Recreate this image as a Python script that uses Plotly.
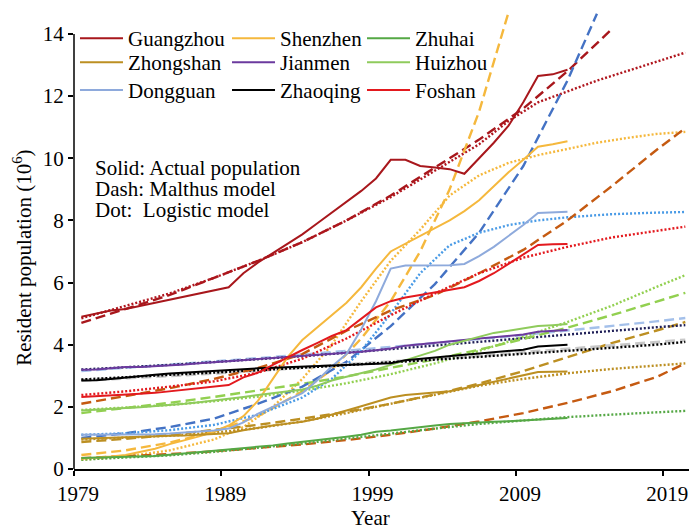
import plotly.graph_objects as go

# ---------------- data (population, millions) ----------------
years_actual = list(range(1979, 2013))

guangzhou_actual = [4.9, 5.0, 5.1, 5.15, 5.25, 5.35, 5.45, 5.55, 5.65, 5.75, 5.85, 6.3, 6.65, 6.95,
                    7.25, 7.55, 7.9, 8.25, 8.6, 8.95, 9.35, 9.95, 9.95, 9.75, 9.7, 9.65, 9.5, 10.0,
                    10.5, 11.05, 11.8, 12.65, 12.7, 12.85]
shenzhen_actual = [0.33, 0.36, 0.4, 0.45, 0.55, 0.65, 0.8, 0.92, 1.05, 1.2, 1.4, 1.7, 2.2, 2.9,
                   3.6, 4.15, 4.55, 4.95, 5.35, 5.85, 6.45, 7.0, 7.25, 7.5, 7.75, 8.0, 8.3, 8.65,
                   9.1, 9.55, 9.95, 10.37, 10.45, 10.55]
zhuhai_actual = [0.35, 0.36, 0.37, 0.38, 0.39, 0.42, 0.46, 0.5, 0.54, 0.58, 0.62, 0.66, 0.7, 0.76,
                 0.82, 0.87, 0.92, 0.98, 1.04, 1.1, 1.2, 1.24, 1.3, 1.35, 1.4, 1.45, 1.48, 1.5,
                 1.52, 1.54, 1.56, 1.58, 1.61, 1.64]
zhongshan_actual = [0.97, 0.99, 1.01, 1.02, 1.04, 1.05, 1.07, 1.08, 1.1, 1.12, 1.15, 1.25, 1.33, 1.4,
                    1.46, 1.52, 1.62, 1.74, 1.88, 2.02, 2.16, 2.3, 2.38, 2.42, 2.44, 2.5, 2.6, 2.7,
                    2.8, 2.9, 3.0, 3.12, 3.13, 3.14]
jianmen_actual = [3.19, 3.2, 3.24, 3.28, 3.28, 3.3, 3.33, 3.36, 3.4, 3.44, 3.47, 3.5, 3.54, 3.57,
                  3.6, 3.63, 3.66, 3.7, 3.73, 3.77, 3.82, 3.88, 3.97, 4.02, 4.07, 4.11, 4.15, 4.2,
                  4.24, 4.28, 4.33, 4.42, 4.45, 4.47]
huizhou_actual = [1.88, 1.9, 1.93, 1.96, 1.99, 2.02, 2.06, 2.1, 2.15, 2.2, 2.26, 2.32, 2.38, 2.44,
                  2.5, 2.56, 2.68, 2.85, 2.97, 3.08, 3.2, 3.35, 3.5, 3.65, 3.8, 4.0, 4.12, 4.26,
                  4.38, 4.45, 4.52, 4.6, 4.63, 4.67]
dongguan_actual = [1.1, 1.1, 1.1, 1.1, 1.11, 1.12, 1.14, 1.17, 1.2, 1.24, 1.3, 1.5, 1.78, 2.0,
                   2.22, 2.44, 2.85, 3.3, 3.7, 4.5, 5.4, 6.45, 6.55, 6.56, 6.56, 6.56, 6.6, 6.85,
                   7.15, 7.5, 7.85, 8.24, 8.27, 8.28]
zhaoqing_actual = [2.85, 2.86, 2.9, 2.95, 3.0, 3.03, 3.07, 3.1, 3.14, 3.17, 3.19, 3.22, 3.24, 3.26,
                   3.28, 3.3, 3.32, 3.34, 3.36, 3.38, 3.4, 3.4, 3.5, 3.55, 3.6, 3.64, 3.68, 3.72,
                   3.76, 3.8, 3.84, 3.94, 3.97, 4.0]
foshan_actual = [2.32, 2.34, 2.36, 2.39, 2.42, 2.45, 2.5, 2.55, 2.6, 2.65, 2.7, 2.95, 3.1, 3.35,
                 3.6, 3.83, 4.05, 4.28, 4.47, 4.85, 5.2, 5.4, 5.52, 5.6, 5.68, 5.75, 5.85, 6.05,
                 6.3, 6.6, 6.9, 7.21, 7.23, 7.24]

# model curves (sampled years)
model_years = [1979, 1982, 1985, 1988, 1991, 1994, 1997, 2000, 2003, 2006, 2009, 2012, 2015, 2018, 2020]

guangzhou_malthus_years = [1979, 1982, 1985, 1988, 1991, 1994, 1997, 2000, 2003, 2006, 2009, 2012, 2015]
guangzhou_malthus = [4.7, 5.15, 5.6, 6.15, 6.7, 7.3, 8.0, 8.8, 9.7, 10.6, 11.6, 12.8, 14.15]
guangzhou_logistic_years = [1979, 1982, 1985, 1988, 1991, 1994, 1997, 2000, 2003, 2006, 2008, 2010,
                            2012, 2014, 2016, 2018, 2020]
guangzhou_logistic = [4.85, 5.25, 5.65, 6.15, 6.7, 7.3, 8.0, 8.75, 9.6, 10.45, 11.2, 11.8, 12.15,
                      12.5, 12.8, 13.1, 13.4]

shenzhen_malthus_years = [1979, 1982, 1985, 1988, 1991, 1994, 1996, 1998, 2000, 2002, 2004, 2006, 2008]
shenzhen_malthus = [0.45, 0.6, 0.85, 1.2, 1.7, 2.5, 3.2, 4.2, 5.4, 7.0, 9.0, 11.5, 14.7]
shenzhen_logistic_years = [1979, 1982, 1985, 1988, 1990, 1992, 1994, 1996, 1998, 2000, 2002, 2004,
                           2006, 2008, 2010, 2012, 2014, 2016, 2018, 2020]
shenzhen_logistic = [0.3, 0.4, 0.6, 0.95, 1.35, 2.0, 2.9, 4.0, 5.4, 6.7, 7.7, 8.8, 9.45, 9.85,
                     10.1, 10.3, 10.5, 10.65, 10.78, 10.85]

zhuhai_malthus = [0.35, 0.41, 0.48, 0.57, 0.67, 0.79, 0.93, 1.1, 1.3, 1.53, 1.8, 2.13, 2.5, 2.95, 3.4]
zhuhai_logistic = [0.3, 0.36, 0.44, 0.55, 0.68, 0.82, 0.98, 1.15, 1.3, 1.45, 1.57, 1.67, 1.75, 1.82, 1.87]

zhongshan_malthus = [0.87, 0.97, 1.1, 1.25, 1.42, 1.62, 1.84, 2.1, 2.4, 2.75, 3.15, 3.6, 4.05, 4.45, 4.73]
zhongshan_logistic = [0.95, 1.0, 1.07, 1.17, 1.32, 1.53, 1.8, 2.1, 2.4, 2.68, 2.9, 3.08, 3.22, 3.33, 3.4]

jianmen_malthus = [3.15, 3.25, 3.35, 3.46, 3.57, 3.68, 3.8, 3.92, 4.05, 4.18, 4.31, 4.45, 4.6, 4.75, 4.86]
jianmen_logistic = [3.2, 3.27, 3.35, 3.44, 3.53, 3.63, 3.74, 3.86, 3.98, 4.1, 4.22, 4.34, 4.45, 4.56, 4.63]

huizhou_malthus = [1.8, 1.96, 2.13, 2.32, 2.52, 2.74, 2.98, 3.25, 3.53, 3.84, 4.18, 4.55, 4.95, 5.38, 5.67]
huizhou_logistic = [1.9, 1.97, 2.06, 2.18, 2.33, 2.52, 2.76, 3.05, 3.4, 3.8, 4.25, 4.73, 5.25, 5.85, 6.24]

dongguan_malthus_years = [1979, 1982, 1985, 1988, 1991, 1994, 1997, 2000, 2003, 2006, 2009, 2012, 2014]
dongguan_malthus = [1.0, 1.15, 1.35, 1.62, 2.1, 2.65, 3.45, 4.6, 5.95, 7.6, 9.75, 12.5, 14.65]
dongguan_logistic_years = [1979, 1982, 1985, 1988, 1991, 1994, 1996, 1998, 2000, 2002, 2004, 2006,
                           2008, 2010, 2012, 2015, 2018, 2020]
dongguan_logistic = [1.1, 1.15, 1.25, 1.42, 1.75, 2.3, 2.9, 3.8, 5.0, 6.3, 7.2, 7.6, 7.85, 8.0,
                     8.1, 8.2, 8.25, 8.27]

zhaoqing_malthus = [2.85, 2.92, 3.0, 3.08, 3.17, 3.26, 3.35, 3.44, 3.54, 3.64, 3.75, 3.86, 3.97, 4.08, 4.15]
zhaoqing_logistic = [2.88, 2.95, 3.02, 3.1, 3.18, 3.26, 3.34, 3.43, 3.52, 3.61, 3.7, 3.8, 3.9, 4.0, 4.09]

foshan_malthus = [2.1, 2.35, 2.6, 2.9, 3.25, 3.7, 4.45, 5.1, 5.6, 6.3, 7.05, 8.0, 9.1, 10.25, 10.97]
foshan_logistic = [2.38, 2.5, 2.65, 2.82, 3.1, 3.55, 4.2, 4.95, 5.65, 6.3, 6.8, 7.15, 7.45, 7.65, 7.8]

x_tick_years = [1979, 1989, 1999, 2009, 2019]
y_ticks = [0, 2, 4, 6, 8, 10, 12, 14]

# ---------------- styling ----------------
FONT = "Liberation Serif, Times New Roman, serif"
DASH = "10px,5px"
DOT = "2px,2px"

# (name, actual, colour, malthus x, malthus y, malthus colour, logistic x, logistic y, logistic colour)
cities = [
    ("Guangzhou", guangzhou_actual, "#A8171C",
     guangzhou_malthus_years, guangzhou_malthus, "#A8171C",
     guangzhou_logistic_years, guangzhou_logistic, "#B0161E"),
    ("Shenzhen", shenzhen_actual, "#F5B83D",
     shenzhen_malthus_years, shenzhen_malthus, "#F5B83D",
     shenzhen_logistic_years, shenzhen_logistic, "#F5B83D"),
    ("Zhuhai", zhuhai_actual, "#55A845",
     model_years, zhuhai_malthus, "#C55A11",
     model_years, zhuhai_logistic, "#55A845"),
    ("Zhongshan", zhongshan_actual, "#BC8F22",
     model_years, zhongshan_malthus, "#BC8F22",
     model_years, zhongshan_logistic, "#BC8F22"),
    ("Jianmen", jianmen_actual, "#6B3A9E",
     model_years, jianmen_malthus, "#A4C0EA",
     model_years, jianmen_logistic, "#202058"),
    ("Huizhou", huizhou_actual, "#8FCB5C",
     model_years, huizhou_malthus, "#92D050",
     model_years, huizhou_logistic, "#92D050"),
    ("Dongguan", dongguan_actual, "#8EAADC",
     dongguan_malthus_years, dongguan_malthus, "#4472C4",
     dongguan_logistic_years, dongguan_logistic, "#4A9BE6"),
    ("Zhaoqing", zhaoqing_actual, "#000000",
     model_years, zhaoqing_malthus, "#C8C8C8",
     model_years, zhaoqing_logistic, "#000000"),
    ("Foshan", foshan_actual, "#E3191E",
     model_years, foshan_malthus, "#C55A11",
     model_years, foshan_logistic, "#E3191E"),
]

# legend grid: 3 columns x 3 rows, one legend box per entry
legend_cols_x = [0.0016, 0.2488, 0.4683]
legend_rows_y = [0.974, 0.922, 0.862]


def centre(years):
    # each year is plotted in the middle of its one-year slot
    return [y + 0.5 for y in years]


fig = go.Figure()

for name, actual, col, mx, my, mcol, lx, ly, lcol in cities:
    # the pale grey Malthus curve is drawn a little wider so it stays visible
    mwidth = 3.2 if mcol == "#C8C8C8" else 2.4
    fig.add_trace(go.Scatter(x=centre(mx), y=my, mode="lines", showlegend=False,
                             line=dict(color=mcol, width=mwidth, dash=DASH), hoverinfo="skip"))
    fig.add_trace(go.Scatter(x=centre(lx), y=ly, mode="lines", showlegend=False,
                             line=dict(color=lcol, width=2.4, dash=DOT), hoverinfo="skip"))

legend_layout = {}
for i, (name, actual, col, *_rest) in enumerate(cities):
    key = "legend" if i == 0 else f"legend{i + 1}"
    fig.add_trace(go.Scatter(x=centre(years_actual), y=actual, mode="lines", name=name,
                             legend=key, line=dict(color=col, width=2)))
    legend_layout[key] = dict(
        x=legend_cols_x[i % 3], y=legend_rows_y[i // 3], xanchor="left", yanchor="top",
        font=dict(family=FONT, size=21, color="black"), bgcolor="rgba(0,0,0,0)",
        borderwidth=0, itemwidth=43, orientation="v")

fig.update_layout(
    width=689, height=529,
    margin=dict(l=74, r=0, t=6, b=60),
    paper_bgcolor="white", plot_bgcolor="white",
    font=dict(family=FONT, size=21, color="black"),
    xaxis=dict(range=[1979, 2020.75], tickvals=x_tick_years, ticks="outside", ticklen=5,
               tickwidth=1.5, tickcolor="black", showline=True, linecolor="black",
               linewidth=1.5, showgrid=False, zeroline=False, ticklabelshift=4,
               tickfont=dict(family=FONT, size=21, color="black")),
    yaxis=dict(range=[0, 14.9], tickvals=y_ticks, ticks="outside", ticklen=5,
               tickwidth=1.5, tickcolor="black", showline=False, showgrid=False,
               zeroline=False, tickfont=dict(family=FONT, size=21, color="black")),
    shapes=[dict(type="line", xref="paper", yref="y", x0=0, x1=0, y0=0, y1=14,
                 line=dict(color="black", width=1.5))],
    annotations=[
        dict(text="Solid: Actual population", xref="paper", yref="y", x=0.0309, y=9.69,
             xanchor="left", yanchor="middle", showarrow=False),
        dict(text="Dash: Malthus model", xref="paper", yref="y", x=0.0309, y=9.01,
             xanchor="left", yanchor="middle", showarrow=False),
        dict(text="Dot:&nbsp; Logistic model", xref="paper", yref="y", x=0.0309, y=8.34,
             xanchor="left", yanchor="middle", showarrow=False),
        dict(text="Year", xref="x", yref="paper", x=1999.16, y=-0.1058,
             xanchor="center", yanchor="middle", showarrow=False),
        dict(text="Resident population (10<sup>6</sup>)", xref="paper", yref="y",
             x=-0.083, y=6.8, textangle=-90, xanchor="center", yanchor="middle", showarrow=False),
    ],
    **legend_layout,
)

fig.write_html("out.html")
